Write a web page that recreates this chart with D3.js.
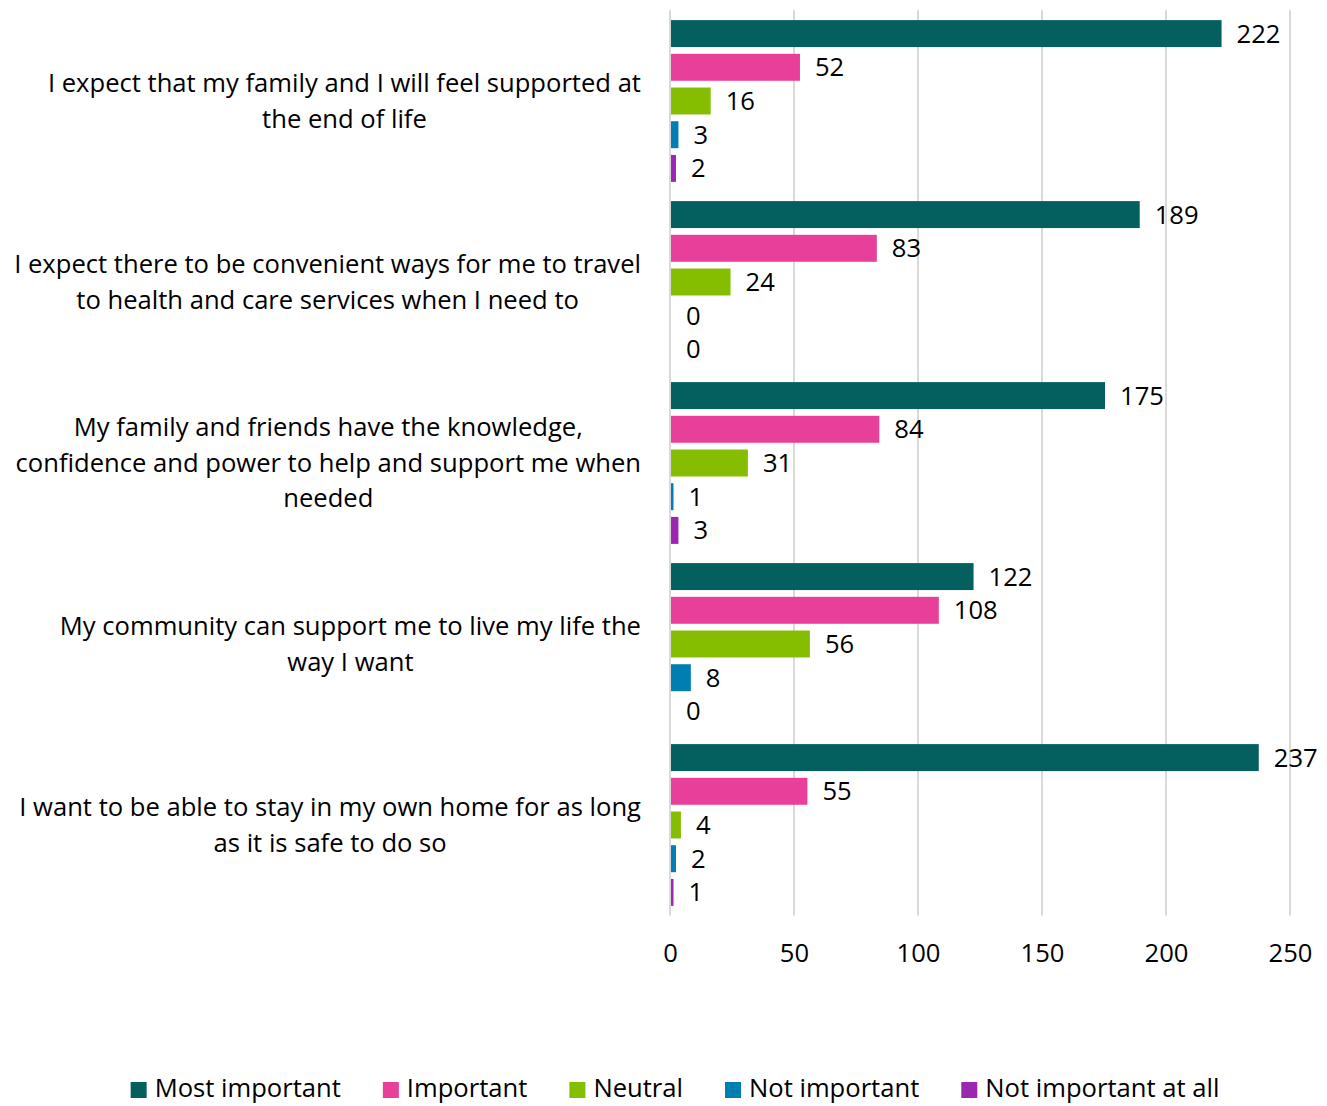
<!DOCTYPE html>
<html>
<head>
<meta charset="utf-8">
<script src="https://cdn.jsdelivr.net/npm/d3@7"></script>
<style>
  html, body { margin: 0; padding: 0; background: #fff; }
  svg { display: block; font-family: "Open Sans", sans-serif; }
</style>
</head>
<body>
<svg id="chart" width="1327" height="1106"></svg>
<script>
// Survey statements (one row per statement), top to bottom
const categories = [
  ["I expect that my family and I will feel supported at", "the end of life"],
  ["I expect there to be convenient ways for me to travel", "to health and care services when I need to"],
  ["My family and friends have the knowledge,", "confidence and power to help and support me when", "needed"],
  ["My community can support me to live my life the", "way I want"],
  ["I want to be able to stay in my own home for as long", "as it is safe to do so"]
];

const seriesNames = ["Most important", "Important", "Neutral", "Not important", "Not important at all"];
const seriesColors = ["#03605F", "#E8409A", "#85BD00", "#007DB1", "#9B27B0"];

// Response counts per series, in the same order as categories
const mostImportant     = [222, 189, 175, 122, 237];
const important         = [52, 83, 84, 108, 55];
const neutral           = [16, 24, 31, 56, 4];
const notImportant      = [3, 0, 1, 8, 2];
const notImportantAtAll = [2, 0, 3, 0, 1];

const xTicks = [0, 50, 100, 150, 200, 250];

const seriesValues = [mostImportant, important, neutral, notImportant, notImportantAtAll];

const svg = d3.select("#chart");
const fontSize = 25.6;

const x = d3.scaleLinear().domain([0, 250]).range([670, 1290]);
const y = d3.scaleBand().domain(d3.range(categories.length)).range([10.5, 915.5]).paddingInner(0).paddingOuter(0);
const yInner = d3.scaleBand().domain(d3.range(seriesNames.length)).range([0, y.bandwidth()])
  .paddingInner(0.2).paddingOuter(0.285);

// Vertical gridlines
svg.append("g")
  .selectAll("line")
  .data(xTicks)
  .join("line")
  .attr("x1", d => x(d)).attr("x2", d => x(d))
  .attr("y1", 10).attr("y2", 915.5)
  .attr("stroke", "#D9D9D9")
  .attr("stroke-width", 2);

// X axis tick labels
const xAxis = d3.axisBottom(x).tickValues(xTicks).tickSize(0).tickPadding(0);
const xg = svg.append("g").attr("transform", "translate(0,944)").call(xAxis);
xg.select(".domain").remove();
xg.selectAll("text")
  .attr("font-family", "Open Sans, sans-serif")
  .attr("font-size", fontSize)
  .attr("fill", "#000")
  .attr("dy", "0.72em");

// Bars and value labels
const rows = [];
categories.forEach((c, ci) => {
  seriesValues.forEach((vals, si) => {
    rows.push({ ci, si, value: vals[ci] });
  });
});

const barG = svg.append("g");
barG.selectAll("rect")
  .data(rows)
  .join("rect")
  .attr("x", x(0) + 1)
  .attr("y", d => y(d.ci) + yInner(d.si))
  .attr("width", d => Math.max(0, x(d.value) - x(0)))
  .attr("height", yInner.bandwidth())
  .attr("fill", d => seriesColors[d.si]);

barG.selectAll("text")
  .data(rows)
  .join("text")
  .attr("x", d => x(d.value) + 16)
  .attr("y", d => y(d.ci) + yInner(d.si) + yInner.bandwidth() / 2)
  .attr("dy", "0.35em")
  .attr("font-size", fontSize)
  .attr("fill", "#000")
  .text(d => d.value);

// Category labels, centred as a block whose right edge sits at 641
const labelRight = 641;
const lineH = 35.5;
const catG = svg.append("g");
categories.forEach((lines, ci) => {
  const t = catG.append("text")
    .attr("font-size", fontSize)
    .attr("fill", "#000")
    .attr("text-anchor", "middle");
  const cy = y(ci) + y.bandwidth() / 2;
  const n = lines.length;
  lines.forEach((ln, li) => {
    t.append("tspan")
      .attr("y", cy + (li - (n - 1) / 2) * lineH)
      .attr("dy", "0.35em")
      .text(ln);
  });
  let maxW = 0;
  t.selectAll("tspan").each(function () { maxW = Math.max(maxW, this.getComputedTextLength()); });
  t.selectAll("tspan").attr("x", labelRight - maxW / 2);
});

// Legend, centred horizontally
const legendY = 1089;
const sw = 16, swGap = 8, itemGap = 42;
const legend = svg.append("g");
const items = seriesNames.map((name, i) => {
  const g = legend.append("g");
  g.append("rect").attr("width", sw).attr("height", sw).attr("y", -sw / 2 + 1).attr("fill", seriesColors[i]);
  const tx = g.append("text").attr("x", sw + swGap).attr("dy", "0.32em")
    .attr("font-size", fontSize).attr("fill", "#000").text(name);
  return { g, w: sw + swGap + tx.node().getComputedTextLength() };
});
const total = d3.sum(items, d => d.w) + itemGap * (items.length - 1);
let cx = 675 - total / 2;
items.forEach(it => {
  it.g.attr("transform", `translate(${cx},${legendY})`);
  cx += it.w + itemGap;
});
</script>
</body>
</html>
